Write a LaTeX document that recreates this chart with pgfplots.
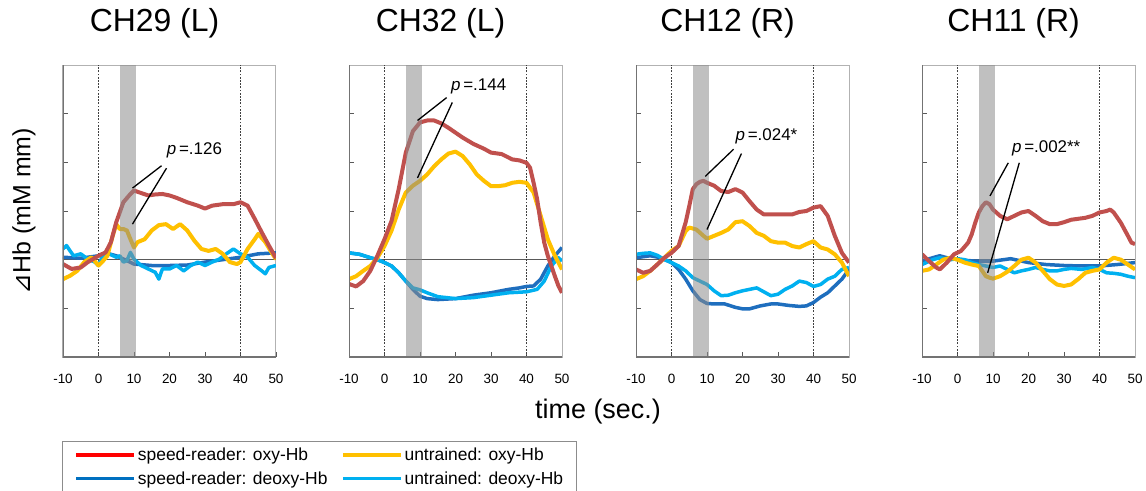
\documentclass[border=0pt]{standalone}
\usepackage{fontspec}
\setmainfont{Liberation Sans}
\newfontfamily\dejavu{DejaVu Sans}
\usepackage{pgfplots}
\pgfplotsset{compat=1.18}

\definecolor{spoxy}{RGB}{192,80,77}
\definecolor{spdeoxy}{RGB}{30,110,190}
\definecolor{unoxy}{RGB}{255,192,0}
\definecolor{undeoxy}{RGB}{0,176,240}
\definecolor{legred}{RGB}{255,0,0}
\definecolor{legblue}{RGB}{0,112,192}

\pgfplotsset{
  chpanel/.style={
    scale only axis, width=213bp, height=292bp, anchor=south west,
    xmin=-10, xmax=50, ymin=-2, ymax=4,
    xtick={-10,0,10,20,30,40,50}, xticklabels={-10,0,10,20,30,40,50},
    ytick={-1,0,1,2,3}, yticklabels={},
    tick align=inside, xtick pos=left, ytick pos=left,
    major tick length=5bp,
    tick style={black!65, line width=0.8bp},
    axis line style={black!30, line width=1bp},
    xticklabel style={font=\fontsize{13.5}{16}\selectfont, anchor=base, yshift=-26bp},
    title style={font=\fontsize{32}{36}\selectfont, at={(0.43,1)}, anchor=base, yshift=28bp},
    every axis plot/.append style={line join=round, forget plot},
  },
  sox/.style={spoxy, line width=4bp},
  sdx/.style={spdeoxy, line width=3.5bp},
  uox/.style={unoxy, line width=4bp},
  udx/.style={undeoxy, line width=3.5bp},
}

% guides drawn in every panel
\newcommand{\guides}{%
  \draw[black!65, line width=1bp] (axis cs:-10,0) -- (axis cs:50,0);
  \draw[black!75, line width=0.5bp, dash pattern=on 1.8bp off 1.4bp] (axis cs:0,-2) -- (axis cs:0,4);
  \draw[black!75, line width=0.5bp, dash pattern=on 1.8bp off 1.4bp] (axis cs:40,-2) -- (axis cs:40,4);
}
\newcommand{\band}{%
  \fill[black!45, opacity=0.55] (axis cs:6,-2) rectangle (axis cs:10.5,4);
  \draw[black!55, line width=1.2bp] (rel axis cs:0,1) -- (rel axis cs:0,0) -- (rel axis cs:1,0);
}
\newcommand{\pnote}[8]{%
  \draw[line width=1.3bp] (axis cs:#1) -- (axis cs:#2);
  \draw[line width=1.3bp] (axis cs:#3) -- (axis cs:#4);
  \node[anchor=west, inner sep=0pt, font=\fontsize{17}{20}\selectfont] at (axis cs:#5,#6) {\textit{p}\,=.#7#8};
}

\begin{document}
\begin{tikzpicture}
\useasboundingbox (0,0) rectangle (1146bp,-491bp);

% ---------- CH29 (L)
\begin{axis}[chpanel, at={(63bp,-357bp)}, title={CH29 (L)},
  ylabel={{\dejavu ⊿}Hb (mM mm)},
  ylabel style={font=\fontsize{25}{28}\selectfont, at={(axis description cs:-0.183,0.5)}, anchor=center},
  legend columns=2,
  legend image code/.code={\draw[#1] (0bp,0bp) -- (58bp,0bp);},
  legend style={at={(axis description cs:-0.005,-0.288)}, anchor=north west,
    draw=black!45, line width=1bp, font=\fontsize{17.5}{20}\selectfont,
    inner xsep=12bp, inner ysep=5bp, row sep=6.5bp,
    /tikz/every even column/.append style={column sep=12bp},
    nodes={inner sep=1.5bp, anchor=west}},
]
\addlegendimage{legred, line width=4bp}
\addlegendentry{speed-reader: oxy-Hb}
\addlegendimage{unoxy, line width=4bp}
\addlegendentry{untrained: oxy-Hb}
\addlegendimage{legblue, line width=3bp}
\addlegendentry{speed-reader: deoxy-Hb}
\addlegendimage{undeoxy, line width=3bp}
\addlegendentry{untrained: deoxy-Hb}
\guides
\addplot[sdx] coordinates {(-10,0.05)(-5,0.03)(0,0.08)(3,0.12)(5,0.08)(8,-0.02)(10,-0.09)(15,-0.12)(20,-0.12)(25,-0.11)(30,-0.05)(35,0)(40,0.05)(45,0.12)(50,0.14)};
\addplot[udx] coordinates {(-10,0.22)(-9,0.29)(-8,0.18)(-7,0.08)(-5,0.12)(-3,0.01)(-1,-0.05)(0,-0.12)(1,0.05)(3,0.12)(5,0.05)(6,0.08)(7,-0.05)(8,-0.02)(9,0.15)(10,0.01)(12,-0.12)(14,-0.19)(16,-0.26)(17,-0.40)(18,-0.19)(20,-0.19)(22,-0.12)(24,-0.23)(26,-0.12)(28,-0.05)(30,-0.12)(32,-0.05)(34,0.01)(36,0.12)(38,0.22)(40,0.12)(42,0.05)(44,-0.12)(46,-0.23)(47,-0.29)(48,-0.16)(50,-0.12)};
\addplot[uox] coordinates {(-10,-0.40)(-8,-0.33)(-6,-0.23)(-4,-0.05)(-2,0.05)(0,-0.12)(1,-0.05)(2.5,0.08)(4,0.49)(5,0.73)(6,0.63)(7,0.63)(8,0.60)(9,0.42)(10,0.25)(11,0.36)(13,0.42)(15,0.60)(17,0.71)(19,0.73)(21,0.63)(23,0.73)(25,0.60)(27,0.39)(29,0.22)(31,0.18)(33,0.22)(35,0.12)(37,-0.05)(39,-0.09)(40,-0.05)(42,0.22)(44,0.42)(45,0.53)(47,0.36)(49,0.12)(50,0.01)};
\addplot[sox] coordinates {(-10,-0.09)(-7.6,-0.19)(-5,-0.16)(-3,-0.05)(0,0.08)(2,0.15)(3.5,0.36)(5,0.77)(7,1.18)(9,1.35)(10,1.42)(12,1.37)(14,1.32)(16,1.34)(18,1.35)(20,1.32)(22,1.27)(25,1.18)(28,1.11)(30,1.05)(32,1.11)(35,1.14)(38,1.14)(40,1.18)(42,1.11)(44,0.84)(46,0.56)(48,0.29)(50,0.03)};
\band
\pnote{17.75,1.93}{9.57,1.47}{19.16,1.88}{9.57,0.73}{19.2}{2.25}{12}{6}
\end{axis}

% ---------- CH32 (L)
\begin{axis}[chpanel, at={(349bp,-357bp)}, title={CH32 (L)}]
\guides
\addplot[sdx] coordinates {(-10,0.14)(-7,0.11)(-4,0.04)(-2,0)(0,-0.06)(2,-0.13)(4,-0.27)(6,-0.44)(8,-0.61)(10,-0.75)(12,-0.80)(15,-0.82)(20,-0.80)(25,-0.73)(30,-0.68)(35,-0.61)(38,-0.58)(40,-0.55)(42,-0.54)(44,-0.40)(46,-0.13)(48,0.08)(50,0.25)};
\addplot[udx] coordinates {(-10,0.14)(-7,0.11)(-4,0.04)(-2,0)(0,-0.06)(2,-0.13)(4,-0.27)(6,-0.44)(8,-0.58)(10,-0.62)(12,-0.68)(15,-0.76)(20,-0.80)(25,-0.78)(30,-0.73)(35,-0.68)(40,-0.66)(43,-0.61)(45,-0.44)(47,-0.13)(49,0.04)(50,-0.03)};
\addplot[uox] coordinates {(-10,-0.40)(-8,-0.34)(-6,-0.23)(-4,-0.13)(-2,0.04)(0,0.28)(2,0.60)(4,1.03)(6,1.38)(8,1.52)(10,1.62)(12,1.75)(14,1.92)(16,2.06)(18,2.18)(20,2.22)(22,2.13)(24,1.96)(26,1.75)(28,1.62)(30,1.51)(32,1.51)(34,1.53)(36,1.58)(38,1.60)(40,1.58)(42,1.38)(44,0.90)(46,0.42)(48,0.08)(50,-0.20)};
\addplot[sox] coordinates {(-10,-0.50)(-8,-0.55)(-6,-0.44)(-4,-0.23)(-2,0.08)(0,0.42)(2,0.80)(4,1.45)(6,2.20)(8,2.64)(10,2.82)(12,2.86)(14,2.86)(16,2.80)(18,2.71)(20,2.61)(22,2.51)(25,2.38)(28,2.28)(30,2.20)(33,2.17)(36,2.06)(38,2.04)(40,1.99)(41,1.89)(42,1.58)(43,1.24)(44,0.76)(45,0.35)(46,0.08)(47,-0.13)(48,-0.34)(49,-0.54)(50,-0.68)};
\band
\pnote{17.5,3.33}{9.3,2.86}{19.1,3.23}{9.3,1.68}{18.7}{3.57}{14}{4}
\end{axis}

% ---------- CH12 (R)
\begin{axis}[chpanel, at={(636bp,-357bp)}, title={CH12 (R)}]
\guides
\addplot[sdx] coordinates {(-10,0.04)(-6,0.08)(-3,0.04)(0,-0.06)(2,-0.20)(4,-0.40)(6,-0.64)(8,-0.82)(10,-0.90)(12,-0.91)(15,-0.91)(18,-0.98)(20,-1.01)(22,-1.01)(25,-0.95)(28,-0.91)(30,-0.91)(33,-0.94)(36,-0.96)(38,-0.95)(40,-0.88)(42,-0.77)(44,-0.68)(46,-0.54)(48,-0.40)(50,-0.20)};
\addplot[udx] coordinates {(-10,0.11)(-8,0.13)(-6,0.14)(-4,0.09)(-2,0)(0,-0.06)(2,-0.13)(4,-0.23)(6,-0.37)(8,-0.44)(10,-0.51)(12,-0.64)(14,-0.74)(16,-0.73)(18,-0.68)(20,-0.64)(22,-0.61)(24,-0.58)(26,-0.66)(28,-0.74)(30,-0.71)(32,-0.61)(34,-0.54)(36,-0.44)(38,-0.47)(40,-0.55)(42,-0.51)(44,-0.40)(46,-0.34)(48,-0.20)(50,-0.16)};
\addplot[uox] coordinates {(-10,-0.40)(-8,-0.34)(-6,-0.23)(-4,-0.10)(-2,0.04)(0,0.18)(2,0.28)(4,0.59)(5,0.66)(7,0.62)(9,0.49)(10,0.43)(12,0.49)(14,0.55)(16,0.62)(18,0.77)(20,0.79)(22,0.69)(24,0.55)(26,0.49)(28,0.38)(30,0.35)(32,0.35)(34,0.28)(36,0.25)(38,0.32)(40,0.38)(42,0.25)(44,0.21)(46,0.11)(48,-0.06)(50,-0.34)};
\addplot[sox] coordinates {(-10,-0.20)(-8,-0.27)(-6,-0.23)(-4,-0.10)(-2,0.04)(0,0.14)(2,0.28)(4,0.77)(5,1.10)(6,1.45)(7,1.55)(8,1.60)(9,1.62)(10,1.58)(12,1.52)(14,1.41)(16,1.39)(18,1.45)(20,1.38)(22,1.20)(24,1.03)(26,0.93)(28,0.93)(30,0.93)(32,0.93)(34,0.93)(36,0.98)(38,1.00)(40,1.07)(42,1.10)(44,0.90)(46,0.49)(48,0.14)(50,-0.06)};
\band
\pnote{17.5,2.27}{9.5,1.71}{19.7,2.18}{10.0,0.62}{18.0}{2.53}{02}{4*}
\end{axis}

% ---------- CH11 (R)
\begin{axis}[chpanel, at={(922bp,-357bp)}, title={CH11 (R)}]
\guides
\addplot[sdx] coordinates {(-10,-0.03)(-7,0.04)(-5,0.08)(-3,0.04)(0,0)(5,-0.03)(10,-0.03)(15,0.02)(20,-0.06)(25,-0.10)(30,-0.12)(35,-0.13)(40,-0.13)(45,-0.10)(50,-0.06)};
\addplot[udx] coordinates {(-10,-0.10)(-7,0)(-5,0.04)(-2,0)(0,0.02)(2,0)(4,-0.06)(6,-0.10)(8,-0.13)(10,-0.16)(12,-0.13)(14,-0.20)(16,-0.27)(18,-0.23)(20,-0.20)(22,-0.16)(24,-0.20)(26,-0.23)(28,-0.23)(30,-0.20)(32,-0.18)(35,-0.20)(38,-0.16)(40,-0.20)(42,-0.27)(44,-0.28)(46,-0.30)(48,-0.34)(50,-0.37)};
\addplot[uox] coordinates {(-10,-0.23)(-8,-0.20)(-6,-0.10)(-4,0)(-2,0.04)(0,0)(2,-0.06)(4,-0.10)(6,-0.13)(8,-0.34)(9,-0.37)(10,-0.39)(12,-0.34)(14,-0.25)(16,-0.13)(18,0)(20,0.04)(22,-0.06)(24,-0.23)(26,-0.40)(28,-0.51)(30,-0.54)(32,-0.51)(34,-0.40)(36,-0.27)(38,-0.23)(40,-0.20)(42,-0.06)(44,0.04)(46,0)(48,-0.10)(50,-0.20)};
\addplot[sox] coordinates {(-10,0.11)(-8,-0.03)(-6,-0.16)(-5,-0.20)(-3,-0.06)(-1,0.11)(1,0.18)(3,0.35)(4,0.52)(5,0.76)(6,0.97)(7,1.10)(8,1.18)(9,1.14)(10,1.03)(12,0.90)(14,0.83)(16,0.90)(18,0.97)(20,1.00)(22,0.90)(24,0.79)(26,0.73)(28,0.73)(30,0.77)(32,0.82)(34,0.84)(36,0.86)(38,0.90)(40,0.97)(42,1.00)(43,1.03)(44,0.97)(46,0.76)(48,0.49)(49,0.35)(50,0.32)};
\band
\pnote{14.3,1.99}{9.15,1.31}{17.4,1.99}{8.5,-0.27}{15.3}{2.29}{00}{2**}
\end{axis}

\node[font=\fontsize{27}{30}\selectfont] at (598bp,-412bp) {time (sec.)};
\end{tikzpicture}
\end{document}
